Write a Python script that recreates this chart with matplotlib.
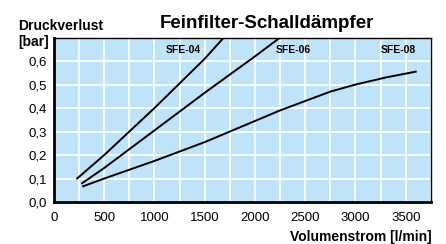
import matplotlib
matplotlib.use("Agg")
import matplotlib.pyplot as plt
import numpy as np

plt.rcParams['font.family'] = ['Liberation Sans', 'DejaVu Sans']

# Kennlinien (Volumenstrom l/min, Druckverlust bar)
sfe04_x = [230, 500, 1000, 1500, 1690]
sfe04_y = [0.10, 0.20, 0.40, 0.61, 0.70]
sfe06_x = [280, 500, 1000, 1500, 2000, 2250]
sfe06_y = [0.08, 0.145, 0.305, 0.465, 0.62, 0.70]
sfe08_x = [290, 500, 1000, 1500, 2000, 2250, 2500, 2750, 3000, 3300, 3600]
sfe08_y = [0.067, 0.10, 0.175, 0.255, 0.345, 0.39, 0.43, 0.47, 0.50, 0.53, 0.555]

labels = ["SFE-04", "SFE-06", "SFE-08"]
label_x = [1290, 2380, 3430]
label_y = [0.645, 0.645, 0.645]

xticks = [0, 500, 1000, 1500, 2000, 2500, 3000, 3500]
yticks = [0.0, 0.1, 0.2, 0.3, 0.4, 0.5, 0.6]

fig = plt.figure(figsize=(4.46, 2.44), dpi=100)
ax = fig.add_axes([0.121, 0.172, 0.845, 0.674])
ax.set_facecolor('#bfe3f8')

ax.set_xlim(0, 3750)
ax.set_ylim(0, 0.7)
ax.set_xticks(np.arange(0, 3751, 250), minor=True)
ax.set_xticks(xticks)
ax.set_xticklabels([str(v) for v in xticks], fontsize=9.5)
ax.set_yticks(yticks)
ax.set_yticklabels([f"{v:.1f}".replace('.', ',') for v in yticks], fontsize=9.5)
ax.tick_params(which='both', length=0, pad=5)
ax.tick_params(axis='x', pad=7)
ax.grid(True, which='both', color='white', linewidth=1.2)
ax.set_axisbelow(True)

for s in ['top', 'right']:
    ax.spines[s].set_linewidth(1.0)
for s in ['left', 'bottom']:
    ax.spines[s].set_linewidth(2.0)

for xs, ys in [(sfe04_x, sfe04_y), (sfe06_x, sfe06_y), (sfe08_x, sfe08_y)]:
    ax.plot(xs, ys, color='black', linewidth=1.4, clip_on=True)

for t, x, y in zip(labels, label_x, label_y):
    ax.text(x, y, t, fontsize=7.5, fontweight='bold', ha='center', va='center')

fig.text(267 / 446, 1 - 24 / 244, "Feinfilter-Schalldämpfer", fontsize=13.5,
         fontweight='bold', ha='center', va='center')
fig.text(18 / 446, 1 - 26 / 244, "Druckverlust", fontsize=10,
         fontweight='bold', ha='left', va='center')
fig.text(18 / 446, 1 - 42 / 244, "[bar]", fontsize=10,
         fontweight='bold', ha='left', va='center')
fig.text(432 / 446, 1 - 241 / 244, "Volumenstrom [l/min]", fontsize=10,
         fontweight='bold', ha='right', va='baseline')

fig.savefig("out.png", dpi=100)
